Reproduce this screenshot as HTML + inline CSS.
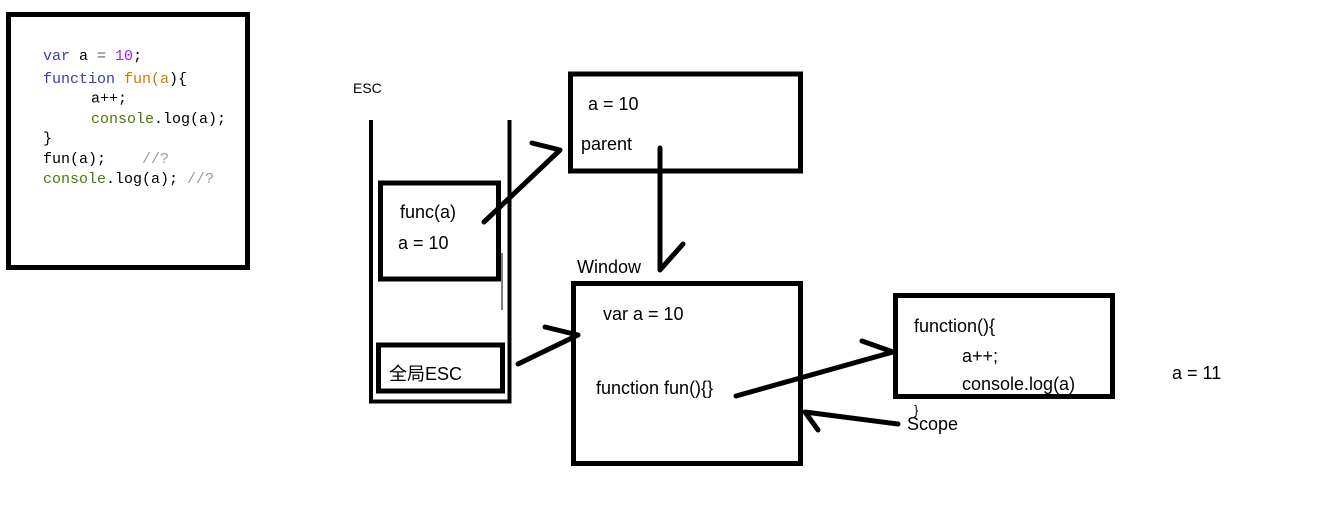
<!DOCTYPE html>
<html><head><meta charset="utf-8"><style>
html,body{margin:0;padding:0;background:#fff;}
svg{display:block;}
.t{font-family:"Liberation Sans","Noto Sans CJK SC",sans-serif;font-size:18px;fill:#000;dominant-baseline:central;}
.c{font-family:"Liberation Mono",monospace;font-size:15px;dominant-baseline:central;white-space:pre;}
</style></head><body>
<svg width="1343" height="511" viewBox="0 0 1343 511">
<g fill="none" stroke="#000" stroke-width="5">
<rect x="8.5" y="14.5" width="239" height="253"/>
<rect x="570.5" y="74" width="230" height="97"/>
<rect x="380.5" y="183" width="118" height="96"/>
<rect x="378.5" y="345" width="124" height="46"/>
<rect x="573.5" y="283.5" width="227" height="180"/>
<rect x="895.5" y="295.5" width="217" height="101"/>
</g>
<g stroke="#000" stroke-width="4" fill="none">
<polyline points="371,120 371,401.5 509.5,401.5 509.5,120"/>
</g>
<line x1="502" y1="253" x2="502" y2="310" stroke="#000" stroke-width="1"/>
<g stroke="#000" stroke-width="5" fill="none" stroke-linecap="round" stroke-linejoin="round">
<polyline points="484,222 560,150 532,143"/>
<polyline points="660,148 660,270 683,244"/>
<polyline points="518,364 578,335 545,327"/>
<polyline points="736,396 893,352 862,341"/>
<polyline points="898,424 805,412 818,430"/>
</g>
<g class="c">
<text x="43" y="56"><tspan fill="#3b3bb8">var</tspan><tspan fill="#000"> a </tspan><tspan fill="#666">=</tspan><tspan fill="#a020f0"> 10</tspan><tspan fill="#000">;</tspan></text>
<text x="43" y="79"><tspan fill="#3b3bb8">function</tspan><tspan fill="#cc7a00"> fun(</tspan><tspan fill="#b8860b">a</tspan><tspan fill="#000">){</tspan></text>
<text x="91" y="99" fill="#000">a++;</text>
<text x="91" y="119"><tspan fill="#4a7a00">console</tspan><tspan fill="#000">.log(a);</tspan></text>
<text x="43" y="139" fill="#000">}</text>
<text x="43" y="159"><tspan fill="#000">fun(a);</tspan><tspan x="142" fill="#999">//?</tspan></text>
<text x="43" y="179"><tspan fill="#4a7a00">console</tspan><tspan fill="#000">.log(a);</tspan><tspan x="187" fill="#999">//?</tspan></text>
</g>
<text class="t" x="353" y="88" style="font-size:14px">ESC</text>
<text class="t" x="588" y="104">a = 10</text>
<text class="t" x="581" y="144">parent</text>
<text class="t" x="400" y="212">func(a)</text>
<text class="t" x="398" y="243">a = 10</text>
<text class="t" x="577" y="267">Window</text>
<text class="t" x="603" y="314">var a = 10</text>
<text class="t" x="596" y="388">function fun(){}</text>
<text class="t" x="389" y="374">全局ESC</text>
<text class="t" x="914" y="326">function(){</text>
<text class="t" x="962" y="356">a++;</text>
<text class="t" x="962" y="384">console.log(a)</text>
<text class="t" x="914" y="410" style="font-size:13px">}</text>
<text class="t" x="907" y="424">Scope</text>
<text class="t" x="1172" y="373">a = 11</text>
</svg>
</body></html>
